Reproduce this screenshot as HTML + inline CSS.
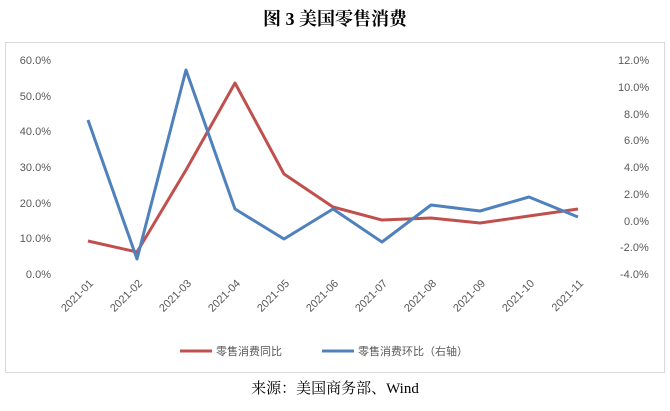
<!DOCTYPE html>
<html><head><meta charset="utf-8"><style>
body{margin:0;background:#fff;width:670px;height:406px;overflow:hidden;font-family:"Liberation Sans","Noto Sans CJK SC",sans-serif}
</style></head><body>
<svg width="670" height="406" xmlns="http://www.w3.org/2000/svg">
<text x="335" y="25" text-anchor="middle" font-family="'Liberation Serif','Noto Serif CJK SC',serif" font-size="18" font-weight="bold" fill="#000">图 3 美国零售消费</text>
<rect x="5.5" y="42.5" width="659" height="330" fill="#fff" stroke="#d9d9d9"/>
<g font-size="11" fill="#595959" text-anchor="end">
<text x="51" y="64">60.0%</text><text x="51" y="100">50.0%</text><text x="51" y="135">40.0%</text>
<text x="51" y="171">30.0%</text><text x="51" y="207">20.0%</text><text x="51" y="242">10.0%</text><text x="51" y="278">0.0%</text>
</g>
<g font-size="11" fill="#595959" text-anchor="start">
<text x="618" y="64">12.0%</text><text x="618" y="91">10.0%</text><text x="624" y="118">8.0%</text>
<text x="624" y="144">6.0%</text><text x="624" y="171">4.0%</text><text x="624" y="198">2.0%</text>
<text x="624" y="225">0.0%</text><text x="620" y="251">-2.0%</text><text x="620" y="278">-4.0%</text>
</g>
<g font-size="11" fill="#595959">
<text transform="translate(94,284) rotate(-45)" text-anchor="end">2021-01</text>
<text transform="translate(143,284) rotate(-45)" text-anchor="end">2021-02</text>
<text transform="translate(192,284) rotate(-45)" text-anchor="end">2021-03</text>
<text transform="translate(241,284) rotate(-45)" text-anchor="end">2021-04</text>
<text transform="translate(290,284) rotate(-45)" text-anchor="end">2021-05</text>
<text transform="translate(339,284) rotate(-45)" text-anchor="end">2021-06</text>
<text transform="translate(388,284) rotate(-45)" text-anchor="end">2021-07</text>
<text transform="translate(437,284) rotate(-45)" text-anchor="end">2021-08</text>
<text transform="translate(486,284) rotate(-45)" text-anchor="end">2021-09</text>
<text transform="translate(535,284) rotate(-45)" text-anchor="end">2021-10</text>
<text transform="translate(584,284) rotate(-45)" text-anchor="end">2021-11</text>
</g>
<polyline fill="none" stroke="#c0504d" stroke-width="3" stroke-linejoin="round" points="88,241 137,252 186,170 235,83 284,174 333,207 382,220 431,218 480,223 529,216 578,209"/>
<polyline fill="none" stroke="#4f81bd" stroke-width="3" stroke-linejoin="round" points="88,120 137,259 186,70 235,209 284,239 333,209 382,242 431,205 480,211 529,197 578,217"/>
<line x1="180" y1="351" x2="212" y2="351" stroke="#c0504d" stroke-width="3"/>
<text x="216" y="355" font-size="11" fill="#595959">零售消费同比</text>
<line x1="322" y1="351" x2="354" y2="351" stroke="#4f81bd" stroke-width="3"/>
<text x="358" y="355" font-size="11" fill="#595959">零售消费环比（右轴）</text>
<text x="335" y="393" text-anchor="middle" font-family="'Liberation Serif','Noto Serif CJK SC',serif" font-size="15" fill="#000">来源：美国商务部、Wind</text>
</svg>
</body></html>
